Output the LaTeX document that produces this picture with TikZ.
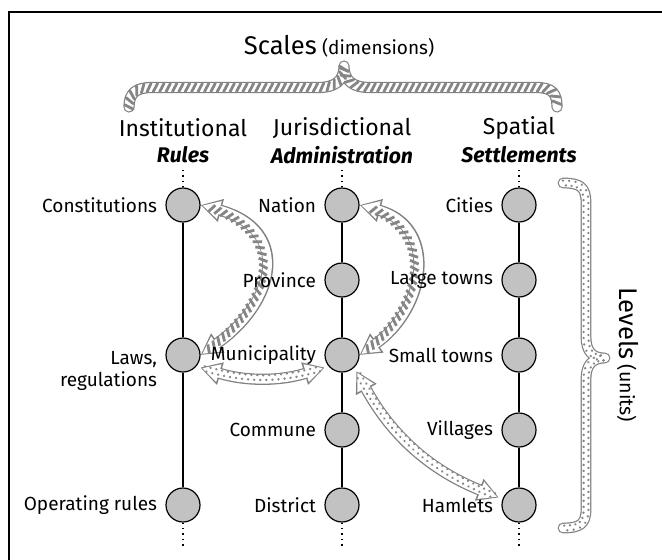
\documentclass[tikz,border=0pt]{standalone}
\usepackage{fontspec}
\setmainfont{Fira Sans}
\usetikzlibrary{positioning,arrows.meta,decorations.markings}

\definecolor{lvlfill}{rgb}{0.76,0.76,0.76}
\definecolor{bandline}{rgb}{0.5,0.5,0.5}
\definecolor{stripe}{rgb}{0.52,0.52,0.52}

\tikzset{
  lvl/.style={circle,draw=black,fill=lvlfill,line width=0.6pt,minimum size=17pt,inner sep=0pt},
  lbl/.style={font=\fontsize{9.5}{11}\selectfont,inner sep=0pt,align=right},
  hdr/.style={font=\fontsize{11.5}{13}\selectfont,inner sep=0pt},
  sub/.style={font=\fontsize{10.6}{13}\selectfont\bfseries\itshape,inner sep=0pt},
  axis/.style={line width=0.7pt},
  tail/.style={line width=0.7pt,dotted},
  tip/.style={{Triangle[length=10.5pt,width=11pt]}-{Triangle[length=10.5pt,width=11pt]}},
  tipin/.style={{Triangle[length=8.8pt,width=8.6pt,sep=0.9pt]}-{Triangle[length=8.8pt,width=8.6pt,sep=0.9pt]}},
  hatchmarks/.style={postaction={arrows=-,decorate,decoration={markings,
    mark=between positions #1 step 3.2pt with {\draw[-,stripe,line width=1.4pt] (-1.1pt,-2.1pt) -- (1.1pt,2.1pt);}}}},
  dotmarks/.style={postaction={arrows=-,decorate,decoration={markings,
    mark=between positions #1 step 3pt with {\fill[stripe] (0,1.2pt) circle (0.65pt);}}}},
  dotmarksb/.style={postaction={arrows=-,decorate,decoration={markings,
    mark=between positions #1 step 3pt with {\fill[stripe] (0,-1.2pt) circle (0.65pt);}}}},
  hatcharrow/.style={preaction={draw=bandline,line width=5.6pt,tip},
    draw=white,line width=4.4pt,tipin,hatchmarks={5pt and -5pt}},
  dotarrow/.style={preaction={draw=bandline,line width=5.6pt,tip},
    draw=white,line width=4.4pt,tipin,dotmarks={4pt and -4pt},dotmarksb={5.5pt and -4pt}},
  hatchbrace/.style={preaction={draw=bandline,line width=5.6pt,line cap=round,line join=round},
    draw=white,line width=4.4pt,line cap=round,line join=round,hatchmarks={0pt and 1}},
  dotbrace/.style={preaction={draw=bandline,line width=5.4pt,line cap=round,line join=round},
    draw=white,line width=4.2pt,line cap=round,line join=round,dotmarks={0pt and 1},dotmarksb={1.5pt and 1}},
}

\begin{document}
\begin{tikzpicture}[x=0.5pt,y=0.5pt]
\useasboundingbox (0,0) rectangle (662,559);
\draw[line width=1pt] (8.5,-20) -- (8.5,547.5) -- (700,547.5);

% titles
\node (ttl) at (339,513) {{\fontsize{12.8}{14}\selectfont Scales} {\fontsize{9.5}{11}\selectfont (dimensions)}};
\node[hdr] (ins) at (183,431) {Institutional};
\node[hdr] (jur) at (342,431) {Jurisdictional};
\node[hdr] (spa) at (519,431) {Spatial};
\node[sub] (rul) at (183,404) {Rules};
\node[sub] (adm) at (342,404) {Administration};
\node[sub] (set) at (519,404) {Settlements};

% levels
\node[lvl] (con) at (183,354) {};
\node[lvl] (law) at (183,204) {};
\node[lvl] (opr) at (183,54) {};
\node[lvl] (nat) at (342,354) {};
\node[lvl] (pro) at (342,279) {};
\node[lvl] (mun) at (342,204) {};
\node[lvl] (com) at (342,129) {};
\node[lvl] (dis) at (342,54) {};
\node[lvl] (cit) at (519,354) {};
\node[lvl] (lrg) at (519,279) {};
\node[lvl] (sml) at (519,204) {};
\node[lvl] (vil) at (519,129) {};
\node[lvl] (ham) at (519,54) {};

% axes
\coordinate (rt) at (183,392);
\coordinate (rb) at (183,12);
\coordinate (jt) at (342,392);
\coordinate (jb) at (342,12);
\coordinate (st) at (519,392);
\coordinate (sb) at (519,12);
\draw[axis] (con) -- (law) -- (opr);
\draw[axis] (nat) -- (pro) -- (mun) -- (com) -- (dis);
\draw[axis] (cit) -- (lrg) -- (sml) -- (vil) -- (ham);
\draw[tail] (con) -- (rt);
\draw[tail] (opr) -- (rb);
\draw[tail] (nat) -- (jt);
\draw[tail] (dis) -- (jb);
\draw[tail] (cit) -- (st);
\draw[tail] (ham) -- (sb);

% braces
\path[hatchbrace] (129,452) .. controls (129,466) and (136,471.5) .. (152,471.5) -- (318,471.5)
  .. controls (335,471.5) and (344,478) .. (344,493) .. controls (344,478) and (353,471.5) .. (370,471.5)
  -- (536,471.5) .. controls (552,471.5) and (557,466) .. (557,452);
\path[dotbrace] (563,376) .. controls (580,376) and (586,372) .. (586,356) -- (586,222)
  .. controls (586,208) and (592,201) .. (605,201) .. controls (592,201) and (586,194) .. (586,180)
  -- (586,50) .. controls (586,35) and (580,31) .. (563,31);
\node[rotate=-90] (lev) at (628,204) {{\fontsize{12.8}{14}\selectfont Levels} {\fontsize{9.8}{11}\selectfont (units)}};

% links
\draw[hatcharrow] (law.east) to[out=35,in=-15,looseness=1.6] (con.east);
\draw[hatcharrow] (mun.east) to[out=35,in=-15,looseness=1.4] (nat.east);
\draw[dotarrow,shorten <=2pt,shorten >=2pt] (law.-40) to[bend right=17] (mun.-140);
\draw[dotarrow,shorten <=2pt,shorten >=2pt] (mun.-45) to[bend right=20] (ham.160);

% labels on top
\node[lbl,left=4pt of con] (conl) {Constitutions};
\node[lbl,anchor=north east] (lawl) at ([xshift=-4pt,yshift=2pt]law.west) {Laws,\\regulations};
\node[lbl,left=4pt of opr] (oprl) {Operating rules};
\node[lbl,left=4pt of nat] (natl) {Nation};
\node[lbl,left=4pt of pro] (prol) {Province};
\node[lbl,left=4pt of mun] (munl) {Municipality};
\node[lbl,left=4pt of com] (coml) {Commune};
\node[lbl,left=4pt of dis] (disl) {District};
\node[lbl,left=4pt of cit] (citl) {Cities};
\node[lbl,left=4pt of lrg] (lrgl) {Large towns};
\node[lbl,left=4pt of sml] (smll) {Small towns};
\node[lbl,left=4pt of vil] (vill) {Villages};
\node[lbl,left=4pt of ham] (haml) {Hamlets};
\end{tikzpicture}
\end{document}
